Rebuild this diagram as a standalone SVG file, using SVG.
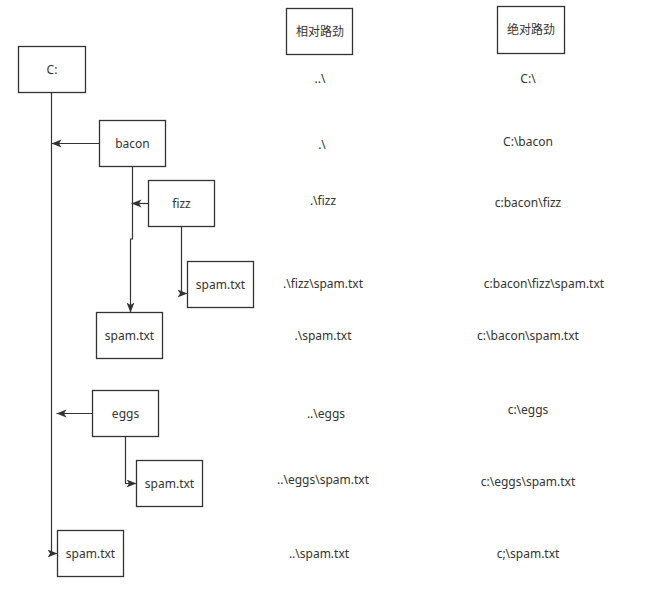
<svg xmlns="http://www.w3.org/2000/svg" width="663" height="602" viewBox="0 0 663 602">
<style>
.box{fill:#fff;stroke:#333;stroke-width:1.3}
.t{font-family:"Noto Sans","Noto Sans CJK SC",sans-serif;font-size:12px;fill:#333;text-anchor:middle;dominant-baseline:central}
.c{fill:none;stroke:#333;stroke-width:1.2}
</style>
<defs>
<marker id="arr" markerUnits="userSpaceOnUse" markerWidth="12" markerHeight="10" refX="10" refY="4" orient="auto">
<path d="M0,0 L10,4 L0,8 L2.5,4 Z" fill="#333"/>
</marker>
</defs>
<rect width="663" height="602" fill="#fff"/>
<g id="connectors">
<path class="c" d="M51.5,92.5 L51.5,553.5 L57.5,553.5" marker-end="url(#arr)"/>
<path class="c" d="M99.5,143.5 L51.5,143.5" marker-end="url(#arr)"/>
<path class="c" d="M148.5,203.5 L131.5,203.5" marker-end="url(#arr)"/>
<path class="c" d="M132.5,166.5 L132.5,239 L130.5,239 L130.5,312.5" marker-end="url(#arr)"/>
<path class="c" d="M181.5,226.5 L181.5,293.5 L187.5,293.5" marker-end="url(#arr)"/>
<path class="c" d="M92.5,413.5 L56.5,413.5" marker-end="url(#arr)"/>
<path class="c" d="M125.5,436.5 L125.5,483.5 L136.5,483.5" marker-end="url(#arr)"/>
</g>
<g id="n-c"><rect class="box" x="18.5" y="46.5" width="67" height="46"/><text class="t" x="52" y="69">C:</text></g>
<g id="n-bacon"><rect class="box" x="99.5" y="120.5" width="66" height="46"/><text class="t" x="132.5" y="143">bacon</text></g>
<g id="n-fizz"><rect class="box" x="148.5" y="180.5" width="66" height="46"/><text class="t" x="181.5" y="203">fizz</text></g>
<g id="n-fizz-spam"><rect class="box" x="187.5" y="261.5" width="66" height="46"/><text class="t" x="220.5" y="284">spam.txt</text></g>
<g id="n-bacon-spam"><rect class="box" x="96.5" y="312.5" width="66" height="46"/><text class="t" x="129.5" y="335">spam.txt</text></g>
<g id="n-eggs"><rect class="box" x="92.5" y="390.5" width="66" height="46"/><text class="t" x="125.5" y="413">eggs</text></g>
<g id="n-eggs-spam"><rect class="box" x="136.5" y="460.5" width="66" height="46"/><text class="t" x="169.5" y="483">spam.txt</text></g>
<g id="n-c-spam"><rect class="box" x="57.5" y="530.5" width="66" height="46"/><text class="t" x="90.5" y="553">spam.txt</text></g>
<g id="h-rel"><rect class="box" x="286.5" y="8.5" width="66" height="46"/><text class="t" x="320" y="31">相对路劲</text></g>
<g id="h-abs"><rect class="box" x="497.5" y="6.5" width="67" height="47"/><text class="t" x="531" y="29">绝对路劲</text></g>
<g id="paths">
<text class="t" x="320" y="78">..\</text>
<text class="t" x="528" y="78">C:\</text>
<text class="t" x="322" y="144">.\</text>
<text class="t" x="528" y="141">C:\bacon</text>
<text class="t" x="323" y="200">.\fizz</text>
<text class="t" x="528" y="202">c:bacon\fizz</text>
<text class="t" x="323" y="283">.\fizz\spam.txt</text>
<text class="t" x="544" y="283">c:bacon\fizz\spam.txt</text>
<text class="t" x="323" y="335">.\spam.txt</text>
<text class="t" x="528" y="335">c:\bacon\spam.txt</text>
<text class="t" x="326" y="413">..\eggs</text>
<text class="t" x="528" y="409">c:\eggs</text>
<text class="t" x="323" y="479">..\eggs\spam.txt</text>
<text class="t" x="528" y="481">c:\eggs\spam.txt</text>
<text class="t" x="319" y="553">..\spam.txt</text>
<text class="t" x="528" y="553">c;\spam.txt</text>
</g>
</svg>
